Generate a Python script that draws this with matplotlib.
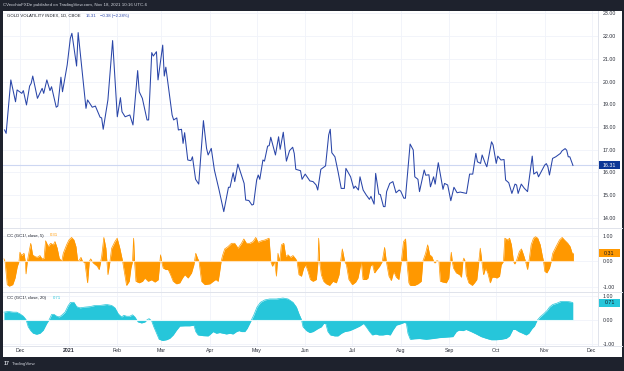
import pandas as pd
import matplotlib
matplotlib.use("Agg")
import matplotlib.pyplot as plt
import matplotlib.ticker as mticker
from matplotlib.patches import Rectangle
from matplotlib.lines import Line2D

plt.rcParams['font.family'] = ['Liberation Sans', 'DejaVu Sans']

# ---- data (days counted from 2020-11-20) ----
start = pd.Timestamp('2020-11-20')

gvz_days = [1, 2, 5, 8, 9, 12, 13, 15, 17, 18, 19, 22, 25, 26, 28, 30, 31, 34, 35, 37, 38, 41, 43, 44,
            47, 48, 50, 53, 54, 57, 59, 62, 63, 64, 67, 70, 73, 75, 76, 78, 81, 83, 86, 87, 89, 92, 93,
            95, 96, 98, 99, 102, 103, 104, 108, 109, 111, 112, 114, 115, 116, 118, 120, 121, 123, 125,
            128, 130, 131, 133, 135, 138, 141, 144, 145, 147, 148, 150, 154, 155, 157, 159, 160, 162,
            163, 164, 166, 167, 169, 170, 171, 174, 176, 177, 179, 181, 183, 185, 186, 187, 190, 191,
            193, 196, 198, 200, 201, 203, 206, 208, 209, 210, 212, 214, 216, 218, 219, 222, 224, 225,
            227, 228, 230, 232, 234, 235, 237, 238, 240, 241, 243, 244, 245, 247, 249, 251, 253, 254,
            256, 257, 260, 262, 263, 265, 266, 269, 270, 272, 273, 275, 276, 278, 281, 282, 284, 286,
            288, 290, 292, 294, 296, 298, 300, 302, 303, 305, 306, 308, 309, 312, 313, 315, 316, 318,
            320, 321, 323, 325, 327, 328, 329, 331, 333, 335, 338, 339, 341, 342, 346, 347, 348, 349,
            351, 353, 356, 357, 359, 360, 361, 362, 364]
gvz_vals = [17.87, 17.72, 20.07, 19.11, 19.63, 19.48, 19.60, 18.97, 19.80, 19.92, 20.24, 19.26, 19.70,
            19.48, 20.07, 19.60, 19.77, 18.87, 18.92, 20.19, 19.55, 20.73, 21.90, 22.12, 20.68, 22.15,
            20.80, 18.82, 19.19, 18.87, 18.92, 18.43, 18.40, 17.90, 19.19, 21.80, 18.45, 19.29, 18.67,
            18.45, 18.53, 18.09, 20.48, 19.55, 19.26, 18.31, 18.31, 21.27, 21.12, 21.31, 20.07, 21.60,
            20.24, 20.63, 18.53, 18.31, 18.40, 17.87, 17.90, 17.28, 17.75, 16.55, 16.52, 16.69, 15.70,
            15.49, 18.28, 17.06, 16.77, 17.06, 16.11, 15.23, 14.28, 15.35, 15.35, 15.99, 15.60, 16.37,
            15.52, 14.79, 14.77, 14.57, 14.60, 15.67, 15.89, 15.70, 16.55, 16.50, 17.16, 17.18, 17.55,
            16.77, 17.57, 17.02, 17.77, 16.50, 16.96, 17.11, 16.84, 16.14, 16.08, 15.70, 15.93, 15.63,
            15.60, 15.45, 15.23, 16.14, 16.29, 17.65, 17.90, 16.87, 16.69, 16.03, 15.30, 15.30, 16.18,
            15.81, 15.30, 15.40, 15.23, 15.81, 15.23, 15.01, 14.82, 14.95, 14.61, 15.96, 15.05, 15.03,
            14.50, 14.50, 15.16, 15.52, 15.60, 15.11, 15.23, 15.18, 14.87, 14.87, 17.25, 16.99, 15.81,
            15.70, 15.16, 16.11, 15.88, 15.90, 15.37, 15.81, 15.49, 16.43, 15.26, 15.52, 15.45, 14.76,
            15.35, 15.11, 15.14, 15.11, 15.08, 15.93, 15.93, 16.84, 16.47, 16.40, 16.77, 16.40, 16.25,
            17.35, 17.21, 16.40, 16.72, 16.55, 16.57, 15.67, 15.55, 15.08, 15.49, 15.45, 15.08, 15.49,
            15.30, 15.16, 16.72, 15.93, 16.03, 15.81, 16.33, 16.39, 16.25, 15.89, 16.62, 16.69, 16.84,
            16.95, 17.05, 16.98, 16.69, 16.69, 16.31]

cc5_days = [0.6, 1.3, 2.7, 4.0, 6.2, 7.7, 9.1, 10.2, 10.8, 11.9, 13.4, 14.2, 14.7, 15.5, 17.7, 18.9,
            20.4, 21.9, 23.6, 24.9, 26.2, 27.2, 28.9, 30.4, 32.1, 33.2, 34.6, 35.9, 37.5, 38.5, 40.6,
            42.1, 43.8, 45.3, 46.6, 47.7, 48.8, 49.8, 50.8, 52.3, 54.0, 55.1, 56.0, 57.6, 60.2, 61.4,
            63.0, 64.4, 65.7, 67.0, 68.3, 69.4, 71.5, 72.9, 74.6, 76.4, 77.8, 78.9, 80.6, 81.7, 82.7,
            83.4, 84.0, 84.9, 87.0, 89.1, 90.6, 92.7, 94.9, 97.0, 99.1, 100.2, 100.6, 101.3, 102.3,
            104.0, 105.5, 107.0, 108.7, 110.8, 112.9, 114.6, 116.1, 118.2, 120.4, 121.9, 123.1, 124.2,
            125.2, 126.8, 128.9, 132.1, 134.2, 135.9, 137.4, 138.4, 139.3, 140.2, 141.6, 143.7, 145.9,
            148.0, 150.1, 152.3, 153.8, 155.5, 157.6, 159.7, 161.4, 162.9, 165.1, 167.2, 169.9, 171.0,
            172.1, 173.5, 174.6, 175.6, 176.7, 177.8, 179.3, 180.6, 182.0, 183.6, 185.2, 186.9, 187.8,
            189.0, 190.6, 192.0, 193.3, 194.8, 196.3, 198.0, 200.1, 201.2, 201.6, 202.2, 203.3, 204.8,
            206.5, 208.6, 210.7, 212.9, 214.6, 215.6, 216.7, 218.2, 219.3, 220.9, 223.1, 225.2, 226.7,
            227.8, 228.8, 229.9, 232.0, 233.1, 234.6, 235.9, 237.3, 238.8, 240.5, 242.2, 243.7, 244.8,
            246.5, 248.0, 249.5, 251.2, 252.8, 254.4, 255.8, 257.1, 257.9, 259.2, 260.1, 262.9, 265.0,
            267.1, 268.1, 269.9, 271.2, 272.5, 273.9, 275.0, 275.8, 277.1, 278.4, 279.3, 280.9, 283.1,
            284.7, 285.6, 286.3, 286.9, 287.7, 289.5, 291.6, 292.8, 293.7, 294.3, 295.2, 295.8, 297.5,
            299.7, 301.1, 302.6, 303.9, 304.8, 305.8, 306.9, 308.2, 309.6, 311.2, 312.4, 313.9, 315.4,
            317.1, 318.2, 319.6, 320.5, 322.4, 323.5, 324.7, 326.0, 326.8, 328.1, 329.8, 331.1, 332.4,
            333.7, 335.0, 336.2, 337.3, 338.8, 340.1, 341.5, 343.1, 344.3, 345.2, 346.0, 347.3, 349.0,
            350.1, 351.1, 353.2, 355.4, 357.1, 358.6, 360.7, 362.2, 363.5, 364.3]
cc5_vals = [0.10, 0.0, -0.91, -0.97, -0.91, -0.65, -0.20, 0.0, 0.36, 0.23, 0.32, 0.0, -0.49, 0.0, 0.71,
            0.26, 0.19, 0.16, 0.23, 0.10, 0.12, 0.81, 0.58, 0.71, 0.65, 0.78, 0.52, 0.13, 0.0, 0.32,
            0.65, 0.84, 0.94, 0.84, 0.58, 0.0, 0.06, 0.16, 0.0, -0.05, -0.84, 0.0, 0.10, -0.06, -0.19,
            -0.32, 0.19, 0.94, 0.52, -0.52, 0.0, 0.52, 0.78, 0.91, 0.52, 0.0, -0.52, -0.94, -0.78,
            -0.26, 0.0, 0.91, 0.0, -0.78, -0.84, -0.78, -0.65, -0.78, -0.72, -0.81, -0.72, 0.0, 0.26,
            0.0, -0.26, -0.32, -0.32, -0.52, -0.78, -0.88, -0.84, -0.65, -0.52, -0.65, -0.45, -0.13,
            0.32, 0.13, 0.0, -0.78, -0.91, -0.88, -0.78, -0.71, -0.78, -0.39, 0.0, 0.23, 0.49, 0.58,
            0.71, 0.71, 0.52, 0.71, 0.88, 0.71, 0.71, 0.78, 0.94, 0.75, 0.81, 0.84, 0.91, 0.0, -0.19,
            0.0, -0.58, 0.32, 0.0, 0.65, 0.71, 0.19, 0.26, 0.16, 0.23, 0.10, 0.0, -0.52, -0.58, -0.26,
            -0.13, -0.39, -0.71, -0.78, -0.71, 0.0, 0.91, 0.0, -0.52, -0.78, -0.88, -0.94, -0.78,
            -0.84, -0.52, 0.0, 0.49, 0.0, -0.13, -0.71, -0.91, -0.81, -0.65, -0.32, 0.0, -0.71, -0.71,
            -0.65, -0.19, -0.10, -0.45, -0.32, -0.19, 0.0, 0.55, 0.0, -0.58, -0.75, -0.39, -0.62,
            -0.71, 0.0, 0.78, 0.88, 0.0, -0.84, -0.94, -0.94, -0.88, -0.78, 0.0, 0.32, 0.65, 0.26,
            0.19, 0.0, -0.06, 0.03, 0.0, -0.78, -0.81, -0.84, -0.65, 0.0, 0.36, 0.0, -0.26, -0.45,
            -0.52, -0.62, 0.0, 0.13, 0.0, -0.52, -0.84, -0.94, -0.84, -0.71, 0.0, 0.52, 0.0, -0.52,
            -0.26, -0.45, -0.84, -0.62, -0.62, -0.65, -0.58, -0.13, 0.0, 0.91, 0.84, 0.91, 0.65, 0.0,
            -0.10, 0.06, 0.39, 0.49, 0.26, 0.0, -0.32, 0.13, 0.65, 0.91, 0.97, 0.91, 0.65, 0.26, 0.0,
            -0.39, -0.45, -0.26, 0.0, 0.32, 0.58, 0.84, 0.94, 0.84, 0.71, 0.58, 0.32, 0.31]

cc20_days = [0.6, 3.4, 6.6, 8.7, 10.8, 13.0, 14.7, 16.1, 17.7, 19.3, 21.5, 23.6, 25.7, 27.9, 29.5, 31.1,
             32.5, 34.3, 35.9, 37.5, 39.6, 41.7, 43.2, 45.3, 47.0, 49.1, 52.3, 55.5, 58.7, 61.9, 66.2,
             69.4, 71.5, 73.6, 75.7, 77.2, 78.9, 81.0, 82.7, 84.2, 85.3, 86.3, 88.5, 90.6, 92.1, 93.3,
             94.9, 96.3, 98.1, 99.7, 101.9, 104.4, 106.5, 108.7, 110.8, 112.9, 116.1, 119.3, 121.9,
             123.1, 124.6, 127.8, 131.0, 132.5, 134.2, 136.3, 138.4, 140.6, 142.7, 144.8, 146.9, 149.1,
             150.8, 152.3, 154.4, 155.9, 158.0, 160.1, 162.2, 164.4, 167.2, 170.3, 174.6, 178.8, 182.0,
             185.2, 187.4, 189.0, 190.6, 191.6, 193.8, 195.9, 198.0, 201.2, 203.3, 204.8, 206.1, 207.5,
             209.1, 211.8, 213.9, 216.1, 218.2, 221.4, 224.6, 227.8, 230.3, 232.0, 234.1, 235.9, 238.0,
             240.1, 242.6, 245.2, 247.3, 249.0, 251.2, 253.3, 255.4, 256.5, 257.6, 258.6, 260.1, 262.9,
             266.0, 270.3, 274.5, 278.8, 283.1, 287.3, 289.5, 291.1, 293.7, 295.8, 299.0, 302.2, 305.4,
             308.6, 311.8, 315.0, 318.2, 321.4, 323.5, 325.6, 327.3, 329.4, 331.9, 334.1, 335.8, 337.9,
             339.4, 340.9, 343.0, 345.3, 347.5, 349.0, 351.1, 353.6, 356.4, 359.6, 362.2, 363.9]
cc20_vals = [0.31, 0.34, 0.31, 0.31, 0.24, 0.14, 0.0, -0.30, -0.46, -0.57, -0.61, -0.57, -0.44, -0.16,
             0.0, 0.22, 0.22, 0.14, 0.11, 0.18, 0.31, 0.59, 0.72, 0.72, 0.54, 0.49, 0.52, 0.54, 0.59,
             0.59, 0.63, 0.59, 0.49, 0.24, 0.11, 0.18, 0.14, 0.14, 0.20, 0.11, 0.0, -0.10, -0.14, -0.10,
             0.0, 0.04, -0.05, -0.30, -0.57, -0.82, -0.87, -0.84, -0.78, -0.64, -0.44, -0.27, -0.26,
             -0.26, -0.23, -0.50, -0.64, -0.67, -0.68, -0.60, -0.50, -0.57, -0.54, -0.57, -0.60, -0.57,
             -0.60, -0.50, -0.46, -0.50, -0.50, -0.37, -0.10, 0.18, 0.52, 0.72, 0.82, 0.86, 0.86, 0.90,
             0.86, 0.72, 0.52, 0.24, 0.0, -0.30, -0.46, -0.54, -0.50, -0.37, -0.30, -0.16, -0.16, -0.50,
             -0.64, -0.68, -0.68, -0.57, -0.50, -0.46, -0.37, -0.27, -0.16, -0.30, -0.50, -0.64, -0.60,
             -0.64, -0.64, -0.61, -0.64, -0.44, -0.23, -0.19, -0.14, -0.11, -0.16, -0.57, -0.82, -0.80,
             -0.79, -0.82, -0.79, -0.75, -0.73, -0.71, -0.50, -0.44, -0.46, -0.41, -0.50, -0.60, -0.71,
             -0.78, -0.84, -0.84, -0.82, -0.78, -0.68, -0.41, -0.41, -0.50, -0.57, -0.64, -0.57, -0.37,
             -0.27, -0.05, 0.11, 0.24, 0.38, 0.52, 0.63, 0.68, 0.76, 0.76, 0.74, 0.71]

month_ticks = pd.date_range('2020-12-01', '2021-12-01', freq='MS')
month_labels = ['Dec', '2021', 'Feb', 'Mar', 'Apr', 'May', 'Jun', 'Jul', 'Aug', 'Sep', 'Oct', 'Nov', 'Dec']

gvz_x = start + pd.to_timedelta(gvz_days, unit='D')
cc5_x = start + pd.to_timedelta(cc5_days, unit='D')
cc20_x = start + pd.to_timedelta(cc20_days, unit='D')

# ---- layout (pixels) ----
W, H = 624, 371
BLUE = '#2945a8'
ORANGE = '#ff9800'
CYAN = '#26c6da'
GRID = '#f0f3fa'
SEP = '#e0e3eb'
TXT = '#131722'

fig = plt.figure(figsize=(W / 100, H / 100), dpi=100, facecolor='#1e222d')
fig.add_artist(Rectangle((3 / W, 1 - 357 / H), 619 / W, 346 / H, transform=fig.transFigure,
                         fc='white', ec='none', zorder=0))

ax1 = fig.add_axes([3 / W, 1 - 228 / H, 595 / W, 217 / H])
ax2 = fig.add_axes([3 / W, 1 - 292 / H, 595 / W, 64 / H], sharex=ax1)
ax3 = fig.add_axes([3 / W, 1 - 346 / H, 595 / W, 54 / H], sharex=ax1)

ax1.plot(gvz_x, gvz_vals, color=BLUE, lw=0.75, zorder=3)
ax1.axhline(gvz_vals[-1], color='#cdd7f2', lw=0.8, zorder=2)
ax1.set_ylim(13.56, 23.1)
ax1.set_yticks(range(14, 24))

ax2.fill_between(cc5_x, 0, cc5_vals, color=ORANGE, lw=0, zorder=3)
ax2.plot(cc5_x, cc5_vals, color=ORANGE, lw=0.5, zorder=3)
ax2.plot(cc5_x[[0, -1]], [0, 0], color='#ffe3bd', lw=0.8, zorder=4)
ax2.set_ylim(-1.2, 1.31)
ax2.set_yticks([-1, 0, 1])

ax3.fill_between(cc20_x, 0, cc20_vals, color=CYAN, lw=0, zorder=3)
ax3.plot(cc20_x, cc20_vals, color=CYAN, lw=0.5, zorder=3)
ax3.plot(cc20_x[[0, -1]], [0, 0], color='#e6f9fb', lw=0.8, zorder=4)
ax3.set_ylim(-1.1, 1.15)
ax3.set_yticks([-1, 0, 1])

ax1.set_xlim(start, start + pd.Timedelta(days=380))
ax3.set_xticks(month_ticks)
ax3.set_xticklabels(month_labels)
for lab in ax3.get_xticklabels():
    if lab.get_text() == '2021':
        lab.set_fontweight('bold')

for ax in (ax1, ax2, ax3):
    ax.set_facecolor('white')
    ax.grid(True, color=GRID, lw=0.6, zorder=0)
    ax.yaxis.tick_right()
    ax.yaxis.set_major_formatter(mticker.FormatStrFormatter('%.2f'))
    ax.tick_params(axis='y', length=0, pad=3.3, labelsize=3.8, labelcolor='#2a2e39')
    ax.tick_params(axis='x', length=0, pad=1.6, labelsize=3.8, labelcolor='#2a2e39')
    for s in ('top', 'left'):
        ax.spines[s].set_visible(False)
    ax.spines['right'].set_color(SEP)
    ax.spines['right'].set_linewidth(0.7)
    ax.spines['bottom'].set_color(SEP)
    ax.spines['bottom'].set_linewidth(0.7)
for ax in (ax1, ax2):
    ax.tick_params(axis='x', labelbottom=False)

# pane separators across the price scale too
for py in (228, 292, 346):
    fig.add_artist(Line2D([3 / W, 622 / W], [1 - py / H] * 2, color=SEP, lw=0.7))


# last-value tags on the price scale
def value_tag(ax, val, fc, tc):
    yd = ax.transData.transform((0, val))[1]
    fig.add_artist(Rectangle((599 / W, (yd - 4) / H), 21 / W, 8 / H, transform=fig.transFigure,
                             fc=fc, ec='none', zorder=5))
    fig.text(609.5 / W, yd / H, f'{val:.2f}', ha='center', va='center', fontsize=3.8,
             color=tc, zorder=6)


value_tag(ax1, gvz_vals[-1], '#0d3796', 'white')
value_tag(ax2, cc5_vals[-1], ORANGE, TXT)
value_tag(ax3, cc20_vals[-1], CYAN, TXT)

# legends
fig.text(7 / W, 1 - 16 / H, 'GOLD VOLATILITY INDEX, 1D, CBOE', fontsize=3.1, color=TXT, va='center')
fig.text(86 / W, 1 - 16 / H, '16.31', fontsize=3.1, color=BLUE, va='center')
fig.text(100 / W, 1 - 16 / H, '\u22120.38 (\u22122.28%)', fontsize=3.1, color=BLUE, va='center')
fig.text(7 / W, 1 - 235.5 / H, 'CC (GC1!, close, 5)', fontsize=3.1, color=TXT, va='center')
fig.text(50 / W, 1 - 235.5 / H, '0.31', fontsize=3.1, color=ORANGE, va='center')
fig.text(7 / W, 1 - 298.3 / H, 'CC (GC1!, close, 20)', fontsize=3.1, color=TXT, va='center')
fig.text(52.5 / W, 1 - 298.3 / H, '0.71', fontsize=3.1, color=CYAN, va='center')

# header and footer bars
fig.text(3 / W, 1 - 5.3 / H, 'CVecchioFXDe published on TradingView.com, Nov 18, 2021 10:16 UTC-6',
         fontsize=3.2, color='#d1d4dc', va='center')
fig.text(4 / W, 1 - 363.5 / H, '17', fontsize=3.8, color='#d1d4dc', va='center', fontweight='bold')
fig.text(11.5 / W, 1 - 363.5 / H, 'TradingView', fontsize=3.2, color='#d1d4dc', va='center')

fig.savefig('out.png', dpi=100, facecolor=fig.get_facecolor())
